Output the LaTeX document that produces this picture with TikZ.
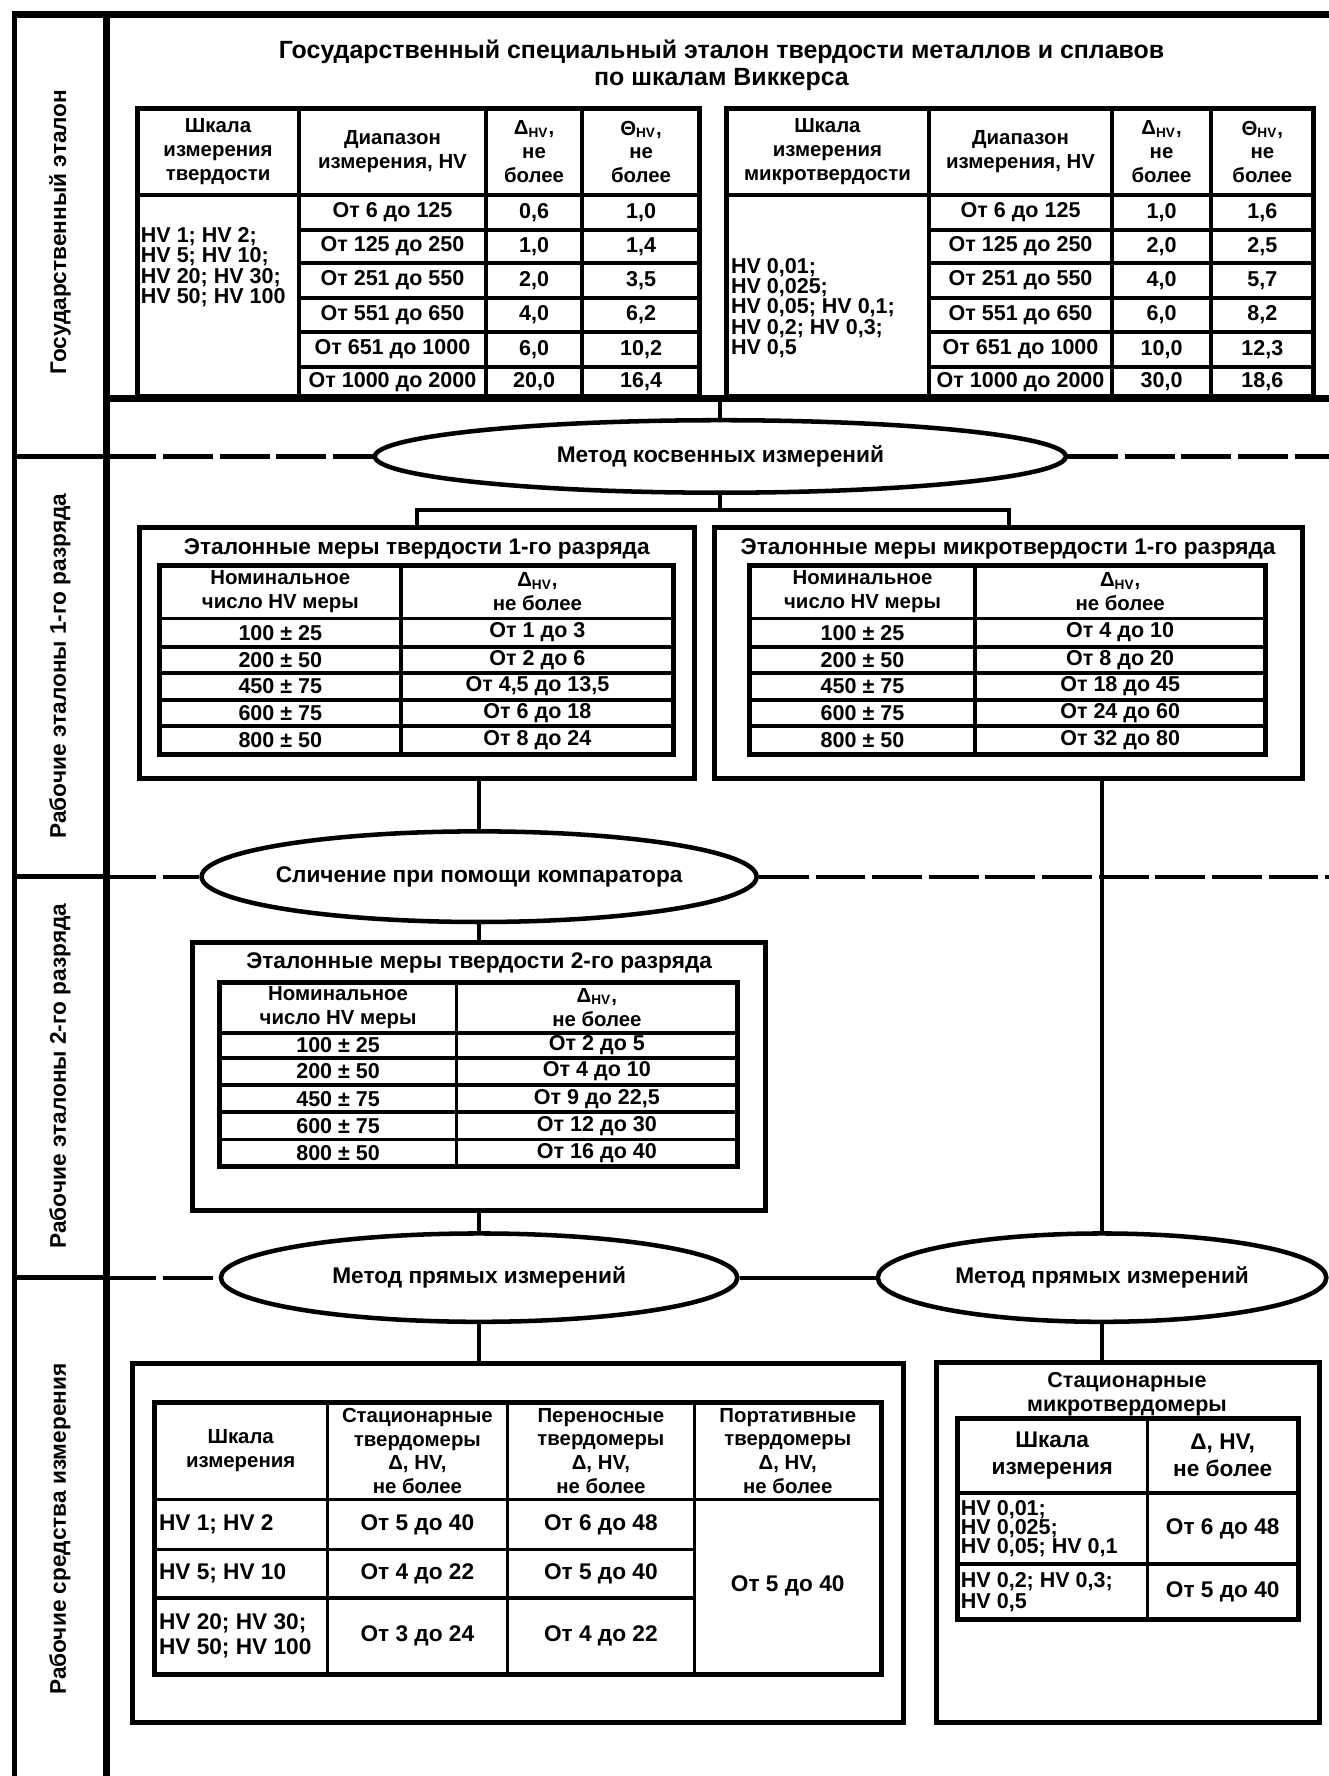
\documentclass[tikz,border=0pt]{standalone}
\usepackage{fontspec}
\setmainfont{Liberation Sans}
\usetikzlibrary{shapes.geometric,calc}
\begin{document}
\begin{tikzpicture}[x=0.5pt,y=-0.5pt,
  frame/.style={line width=3.2pt},
  sepline/.style={line width=2pt},
  boxst/.style={draw, line width=2.2pt, inner sep=0pt},
  tl/.style={line width=1.6pt},
  tlo/.style={line width=2.2pt},
  ell/.style={draw, ellipse, line width=2pt, inner sep=0pt, font=\bfseries\fontsize{10}{12}\selectfont},
  conn/.style={line width=1.8pt},
  dsh/.style={line width=1.8pt, dash pattern=on 22pt off 3pt},
  cellh/.style={inner sep=0pt, align=center, font=\bfseries\fontsize{9}{10.5}\selectfont},
  cellb/.style={inner sep=0pt, align=center, font=\bfseries\fontsize{9.5}{11}\selectfont},
  celll/.style={inner sep=0pt, align=left, anchor=west, font=\bfseries\fontsize{9.5}{9}\selectfont},
  lab/.style={rotate=90, inner sep=0pt, font=\bfseries\fontsize{10}{12}\selectfont},
  ttl/.style={inner sep=0pt, align=center, font=\bfseries\fontsize{10}{12}\selectfont},
  bigttl/.style={inner sep=0pt, font=\bfseries\fontsize{11}{13}\selectfont},
]
\useasboundingbox (0,0) rectangle (1173,1568);

% ---------- frame ----------
\draw[sepline] (13,12) -- (13,1568);
\draw[frame] (11,13) -- (1173,13);
\draw[frame] (94,13) -- (94,1568);
\draw[frame] (94,352) -- (1173,352);
\foreach \y in {403,774,1128} \draw[sepline] (13,\y) -- (94,\y);

% ---------- left labels ----------
\node[lab] (l1) at (53,205) {Государственный эталон};
\node[lab] (l2) at (53,588) {Рабочие эталоны 1-го разряда};
\node[lab] (l3) at (53,950) {Рабочие эталоны 2-го разряда};
\node[lab] (l4) at (53,1350) {Рабочие средства измерения};

% ---------- top section ----------
\node[bigttl] (g1) at (637,46) {Государственный специальный эталон твердости металлов и сплавов};
\node[bigttl] (g2) at (637,70) {по шкалам Виккерса};

% table T1
\draw[tlo] (121,96) rectangle (618,350);
\foreach \x in {264,429,514} \draw[tl] (\x,96) -- (\x,350);
\draw[tl] (121,172) -- (618,172);
\foreach \y in {203,232,263,293,324} \draw[tl] (264,\y) -- (618,\y);
\node[cellh] (t1h1) at (192.5,134) {Шкала\\измерения\\твердости};
\node[cellh] (t1h2) at (346.5,134) {Диапазон\\измерения, HV};
\node[cellh] (t1h3) at (471.5,134) {Δ\textsubscript{HV},\\не\\более};
\node[cellh] (t1h4) at (566,134) {Θ\textsubscript{HV},\\не\\более};
\node[celll, font=\bfseries\fontsize{9.5}{9}\selectfont] (t1s) at (124,236) {HV 1; HV 2;\\HV 5; HV 10;\\HV 20; HV 30;\\HV 50; HV 100};
\foreach \y/\a/\b/\c [count=\i] in {187.5/{От 6 до 125}/{0,6}/{1,0}, 217.5/{От 125 до 250}/{1,0}/{1,4}, 247.5/{От 251 до 550}/{2,0}/{3,5}, 278/{От 551 до 650}/{4,0}/{6,2}, 308.5/{От 651 до 1000}/{6,0}/{10,2}, 337/{От 1000 до 2000}/{20,0}/{16,4}} {
  \node[cellb] (t1a\i) at (346.5,\y) {\a};
  \node[cellb] (t1b\i) at (471.5,\y) {\b};
  \node[cellb] (t1c\i) at (566,\y) {\c};
}

% table T2
\draw[tlo] (641,96) rectangle (1160,350);
\foreach \x in {820,982,1069} \draw[tl] (\x,96) -- (\x,350);
\draw[tl] (641,172) -- (1160,172);
\foreach \y in {203,232,263,293,324} \draw[tl] (820,\y) -- (1160,\y);
\node[cellh] (t2h1) at (730.5,134) {Шкала\\измерения\\микротвердости};
\node[cellh] (t2h2) at (901,134) {Диапазон\\измерения, HV};
\node[cellh] (t2h3) at (1025.5,134) {Δ\textsubscript{HV},\\не\\более};
\node[cellh] (t2h4) at (1114.5,134) {Θ\textsubscript{HV},\\не\\более};
\node[celll, font=\bfseries\fontsize{9.5}{9}\selectfont] (t2s) at (645,272) {HV 0,01;\\HV 0,025;\\HV 0,05; HV 0,1;\\HV 0,2; HV 0,3;\\HV 0,5};
\foreach \y/\a/\b/\c [count=\i] in {187.5/{От 6 до 125}/{1,0}/{1,6}, 217.5/{От 125 до 250}/{2,0}/{2,5}, 247.5/{От 251 до 550}/{4,0}/{5,7}, 278/{От 551 до 650}/{6,0}/{8,2}, 308.5/{От 651 до 1000}/{10,0}/{12,3}, 337/{От 1000 до 2000}/{30,0}/{18,6}} {
  \node[cellb] (t2a\i) at (901,\y) {\a};
  \node[cellb] (t2b\i) at (1025.5,\y) {\b};
  \node[cellb] (t2c\i) at (1114.5,\y) {\c};
}

% ---------- ellipses ----------
\node[ell, minimum width=305pt, minimum height=32pt] (e1) at (636,403) {Метод косвенных измерений};
\node[ell, minimum width=245pt, minimum height=40pt, inner xsep=-8pt] (e2) at (423,774) {Сличение при помощи компаратора};
\node[ell, minimum width=228pt, minimum height=39pt] (e3) at (423,1128) {Метод прямых измерений};
\node[ell, minimum width=198pt, minimum height=39pt] (e4) at (973,1128) {Метод прямых измерений};

% ---------- boxes ----------
\node[boxst, minimum width=245pt, minimum height=110.5pt] (B1) at (368,576.5) {};
\node[boxst, minimum width=259.5pt, minimum height=110.5pt] (B2) at (890.5,576.5) {};
\node[boxst, minimum width=253pt, minimum height=118.5pt] (B3) at (423,950.5) {};
\node[boxst, minimum width=340.5pt, minimum height=158.5pt] (B4) at (457.5,1362.5) {};
\node[boxst, minimum width=169pt, minimum height=159pt] (B5) at (996,1362) {};

% box B1 content
\node[ttl] (b1t) at (368,485) {Эталонные меры твердости 1-го разряда};
\draw[tlo] (141,499) rectangle (595,666);
\draw[tl] (354,499) -- (354,666);
\foreach \y in {546,571,594,618,641} \draw[tl] (141,\y) -- (595,\y);
\node[cellh] (t3h1) at (247.5,522.5) {Номинальное\\число HV меры};
\node[cellh] (t3h2) at (474.5,522.5) {Δ\textsubscript{HV},\\не более};
\foreach \y/\a/\b [count=\i] in {558.5/{100 ± 25}/{От 1 до 3}, 582.5/{200 ± 50}/{От 2 до 6}, 606/{450 ± 75}/{От 4,5 до 13,5}, 629.5/{600 ± 75}/{От 6 до 18}, 653.5/{800 ± 50}/{От 8 до 24}} {
  \node[cellb] (t3a\i) at (247.5,\y) {\a};
  \node[cellb] (t3b\i) at (474.5,\y) {\b};
}

% box B2 content
\node[ttl] (b2t) at (890,485) {Эталонные меры микротвердости 1-го разряда};
\draw[tlo] (662,499) rectangle (1117,666);
\draw[tl] (861,499) -- (861,666);
\foreach \y in {546,571,594,618,641} \draw[tl] (662,\y) -- (1117,\y);
\node[cellh] (t4h1) at (761.5,522.5) {Номинальное\\число HV меры};
\node[cellh] (t4h2) at (989,522.5) {Δ\textsubscript{HV},\\не более};
\foreach \y/\a/\b [count=\i] in {558.5/{100 ± 25}/{От 4 до 10}, 582.5/{200 ± 50}/{От 8 до 20}, 606/{450 ± 75}/{От 18 до 45}, 629.5/{600 ± 75}/{От 24 до 60}, 653.5/{800 ± 50}/{От 32 до 80}} {
  \node[cellb] (t4a\i) at (761.5,\y) {\a};
  \node[cellb] (t4b\i) at (989,\y) {\b};
}

% box B3 content
\node[ttl] (b3t) at (423,850) {Эталонные меры твердости 2-го разряда};
\draw[tlo] (194,867) rectangle (651,1030);
\draw[tl] (403,867) -- (403,1030);
\foreach \y in {912,934,958,982,1006} \draw[tl] (194,\y) -- (651,\y);
\node[cellh] (t5h1) at (298.5,889.5) {Номинальное\\число HV меры};
\node[cellh] (t5h2) at (527,889.5) {Δ\textsubscript{HV},\\не более};
\foreach \y/\a/\b [count=\i] in {923/{100 ± 25}/{От 2 до 5}, 946/{200 ± 50}/{От 4 до 10}, 970/{450 ± 75}/{От 9 до 22,5}, 994/{600 ± 75}/{От 12 до 30}, 1018/{800 ± 50}/{От 16 до 40}} {
  \node[cellb] (t5a\i) at (298.5,\y) {\a};
  \node[cellb] (t5b\i) at (527,\y) {\b};
}

% box B4 content
\draw[tlo] (136,1238) rectangle (778,1478);
\foreach \x in {289,448,613} \draw[tl] (\x,1238) -- (\x,1478);
\draw[tl] (136,1324) -- (778,1324);
\foreach \y in {1368,1411} \draw[tl] (136,\y) -- (613,\y);
\node[cellh] (t6h1) at (212.5,1281) {Шкала\\измерения};
\node[cellh] (t6h2) at (368.5,1281) {Стационарные\\твердомеры\\Δ, HV,\\не более};
\node[cellh] (t6h3) at (530.5,1281) {Переносные\\твердомеры\\Δ, HV,\\не более};
\node[cellh] (t6h4) at (695.5,1281) {Портативные\\твердомеры\\Δ, HV,\\не более};
\node[celll, font=\bfseries\fontsize{10}{12}\selectfont] (t6s1) at (140,1346) {HV 1; HV 2};
\node[celll, font=\bfseries\fontsize{10}{12}\selectfont] (t6s2) at (140,1389.5) {HV 5; HV 10};
\node[celll, font=\bfseries\fontsize{10}{11}\selectfont] (t6s3) at (140,1444.5) {HV 20; HV 30;\\HV 50; HV 100};
\foreach \y/\a/\b [count=\i] in {1346/{От 5 до 40}/{От 6 до 48}, 1389.5/{От 4 до 22}/{От 5 до 40}, 1444.5/{От 3 до 24}/{От 4 до 22}} {
  \node[cellb, font=\bfseries\fontsize{10}{12}\selectfont] (t6a\i) at (368.5,\y) {\a};
  \node[cellb, font=\bfseries\fontsize{10}{12}\selectfont] (t6b\i) at (530.5,\y) {\b};
}
\node[cellb, font=\bfseries\fontsize{10}{12}\selectfont] (t6c) at (695.5,1400) {От 5 до 40};

% box B5 content
\node[ttl, font=\bfseries\fontsize{9.5}{10.5}\selectfont] (b5t) at (995,1231) {Стационарные\\микротвердомеры};
\draw[tlo] (845,1252) rectangle (1146,1430);
\draw[tl] (1013,1252) -- (1013,1430);
\foreach \y in {1318,1381} \draw[tl] (845,\y) -- (1146,\y);
\node[cellh, font=\bfseries\fontsize{10}{12}\selectfont] (t7h1) at (929,1285) {Шкала\\измерения};
\node[cellh, font=\bfseries\fontsize{10}{12}\selectfont] (t7h2) at (1079.5,1285) {Δ, HV,\\не более};
\node[celll, font=\bfseries\fontsize{9.5}{8.5}\selectfont] (t7s1) at (848,1349.5) {HV 0,01;\\HV 0,025;\\HV 0,05; HV 0,1};
\node[celll, font=\bfseries\fontsize{9.5}{9}\selectfont] (t7s2) at (848,1405.5) {HV 0,2; HV 0,3;\\HV 0,5};
\node[cellb, font=\bfseries\fontsize{10}{12}\selectfont] (t7a1) at (1079.5,1349.5) {От 6 до 48};
\node[cellb, font=\bfseries\fontsize{10}{12}\selectfont] (t7a2) at (1079.5,1405.5) {От 5 до 40};

% ---------- connectors ----------
\coordinate (gsebot) at (636,352);
\coordinate (j1) at (636,450);
\coordinate (d1l) at (94,403);
\coordinate (d1r) at (1173,403);
\coordinate (d2l) at (94,774);
\coordinate (d2r) at (1173,774);
\coordinate (d3l) at (94,1128);
\coordinate (d3r) at (1173,1128);
\draw[conn] (gsebot) -- (e1.north);
\draw[conn] (e1.south) -- (j1);
\draw[conn] (B1.north) |- (j1) -| (B2.north);
\draw[conn] (B1.south -| e2.north) -- (e2.north);
\draw[conn] (e2.south) -- (e2.south |- B3.north);
\draw[conn] (B3.south -| e3.north) -- (e3.north);
\draw[conn] (e3.south) -- (e3.south |- B4.north);
\draw[conn] (B2.south -| e4.north) -- (e4.north);
\draw[conn] (e4.south) -- (e4.south |- B5.north);
\draw[dsh] (d1l) -- (e1.west);
\draw[dsh] (e1.east) -- (d1r);
\draw[dsh] (d2l) -- (e2.west);
\draw[dsh] (e2.east) -- (d2r);
\draw[dsh] (d3l) -- (e3.west);
\draw[conn] (e3.east) -- (e4.west);
\draw[conn] (e4.east) -- (d3r);
\end{tikzpicture}
\end{document}
